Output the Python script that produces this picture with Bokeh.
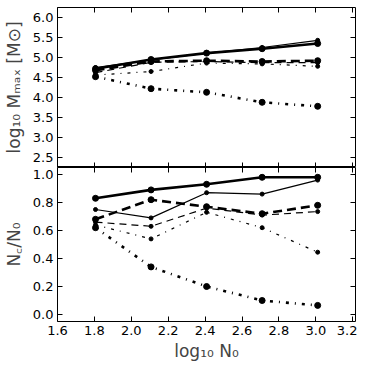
from bokeh.plotting import figure
from bokeh.models import LinearAxis, FixedTicker, Range1d, NumeralTickFormatter
from bokeh.layouts import column
from bokeh.embed import file_html
from bokeh.resources import INLINE

# x: log10 N0
log_n0 = [1.806, 2.107, 2.408, 2.709, 3.010]

# top panel: log10 Mmax [Msun]
mmax_a = [4.72, 4.95, 5.11, 5.22, 5.35]   # thick solid
mmax_b = [4.75, 4.94, 5.11, 5.25, 5.43]   # thin solid
mmax_c = [4.68, 4.90, 4.92, 4.90, 4.92]   # thick dashed
mmax_d = [4.62, 4.88, 4.90, 4.87, 4.87]   # thin dashed
mmax_e = [4.56, 4.65, 4.86, 4.84, 4.78]   # thin dash-dot
mmax_f = [4.52, 4.22, 4.13, 3.88, 3.78]   # thick dash-dot

# bottom panel: Nc/N0
frac_a = [0.83, 0.89, 0.93, 0.98, 0.98]
frac_b = [0.75, 0.69, 0.87, 0.86, 0.96]
frac_c = [0.68, 0.82, 0.77, 0.72, 0.78]
frac_d = [0.66, 0.63, 0.76, 0.71, 0.735]
frac_e = [0.64, 0.54, 0.73, 0.62, 0.445]
frac_f = [0.62, 0.34, 0.20, 0.10, 0.065]

x_ticks = [1.6, 1.8, 2.0, 2.2, 2.4, 2.6, 2.8, 3.0, 3.2]
top_ticks = [2.5, 3.0, 3.5, 4.0, 4.5, 5.0, 5.5, 6.0]
bot_ticks = [0.0, 0.2, 0.4, 0.6, 0.8, 1.0]

styles = [
    dict(line_width=2.6, line_dash="solid", size=6),
    dict(line_width=1.2, line_dash="solid", size=4),
    dict(line_width=2.6, line_dash="9 5", size=6),
    dict(line_width=1.2, line_dash="7 5", size=4),
    dict(line_width=1.2, line_dash="3 6 1 6", size=4),
    dict(line_width=2.6, line_dash="3 6 1 6", size=6),
]

FONT = "DejaVu Sans"
TICK_FS = "13px"


def style_axis(ax, ticks, show_labels):
    ax.ticker = FixedTicker(ticks=ticks)
    ax.major_tick_in = 5
    ax.major_tick_out = 0
    ax.minor_tick_line_color = None
    ax.axis_line_color = None
    ax.major_tick_line_color = "black"
    ax.major_tick_line_width = 1
    ax.major_label_text_font = FONT
    ax.major_label_text_color = "black"
    ax.major_label_text_font_size = TICK_FS
    if show_labels:
        ax.formatter = NumeralTickFormatter(format="0.0")
        ax.major_label_standoff = 4
    else:
        ax.major_label_overrides = {t: "" for t in ticks}
        ax.major_label_standoff = 0


def make_fig(h, yr, yticks, ylabel, series, show_x_labels, xlabel=None,
             border_top=0, border_bottom=0):
    p = figure(width=357, height=h,
               x_range=Range1d(1.6, 3.215), y_range=yr,
               output_backend="svg", toolbar_location=None,
               min_border_left=48, min_border_right=2,
               min_border_top=border_top, min_border_bottom=border_bottom)
    p.xgrid.visible = False
    p.ygrid.visible = False
    p.outline_line_color = "black"
    p.outline_line_width = 1
    p.background_fill_color = "white"
    p.border_fill_color = "white"

    style_axis(p.xaxis[0], x_ticks, show_x_labels)
    style_axis(p.yaxis[0], yticks, True)
    p.yaxis[0].axis_label = ylabel
    p.yaxis[0].axis_label_text_font = FONT
    p.yaxis[0].axis_label_text_font_style = "normal"
    p.yaxis[0].axis_label_text_font_size = "17px"
    p.yaxis[0].axis_label_standoff = 6
    if xlabel:
        p.xaxis[0].axis_label = xlabel
        p.xaxis[0].axis_label_text_font = FONT
        p.xaxis[0].axis_label_text_font_style = "normal"
        p.xaxis[0].axis_label_text_font_size = "17px"
        p.xaxis[0].axis_label_standoff = 3

    right = LinearAxis()
    style_axis(right, yticks, False)
    p.add_layout(right, "right")
    top = LinearAxis()
    style_axis(top, x_ticks, False)
    p.add_layout(top, "above")

    for ys, st in zip(series, styles):
        p.line(log_n0, ys, line_color="black", line_width=st["line_width"],
               line_dash=st["line_dash"])
        p.scatter(log_n0, ys, marker="circle", size=st["size"],
                  fill_color="black", line_color="black")
    return p


p_top = make_fig(167, Range1d(2.25, 6.25), top_ticks, "log₁₀ Mₘₐₓ [M⊙]",
                 [mmax_a, mmax_b, mmax_c, mmax_d, mmax_e, mmax_f], False,
                 border_top=7)
p_bot = make_fig(196, Range1d(-0.05, 1.05), bot_ticks, "N꜀/N₀",
                 [frac_a, frac_b, frac_c, frac_d, frac_e, frac_f], True,
                 xlabel="log₁₀ N₀", border_bottom=37)

layout = column(p_top, p_bot, spacing=0)
open("out.html", "w").write(file_html(layout, INLINE))
